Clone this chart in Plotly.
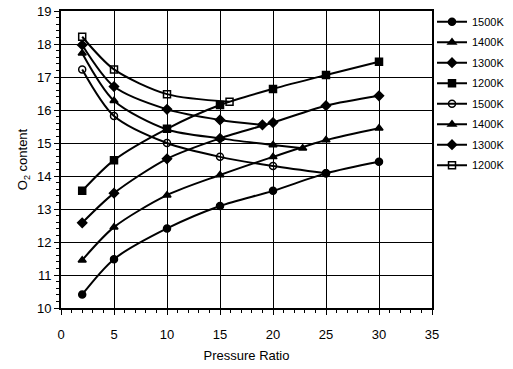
import plotly.graph_objects as go

# Rising series (filled markers), pressure ratio
pr_rise = [2, 5, 10, 15, 20, 25, 30]
rise_1500 = [10.41, 11.48, 12.41, 13.09, 13.55, 14.08, 14.43]
rise_1400 = [11.45, 12.45, 13.42, 14.03, 14.58, 15.09, 15.45]
rise_1300 = [12.58, 13.48, 14.52, 15.14, 15.62, 16.13, 16.43]
rise_1200 = [13.55, 14.48, 15.43, 16.15, 16.64, 17.06, 17.46]

# Falling series
pr_fall_1500 = [2, 5, 10, 15, 20, 25]
fall_1500 = [17.23, 15.82, 15.0, 14.58, 14.3, 14.08]
pr_fall_1400 = [2, 5, 10, 15, 20, 22.8]
fall_1400 = [17.72, 16.28, 15.41, 15.14, 14.94, 14.84]
pr_fall_1300 = [2, 5, 10, 15, 19]
fall_1300 = [17.97, 16.71, 16.02, 15.70, 15.55]
pr_fall_1200 = [2, 5, 10, 15.9]
fall_1200 = [18.22, 17.23, 16.48, 16.25]

x_ticks = [0, 5, 10, 15, 20, 25, 30, 35]
y_ticks = [10, 11, 12, 13, 14, 15, 16, 17, 18, 19]

series = [
    (pr_rise, rise_1500, "1500K", "circle"),
    (pr_rise, rise_1400, "1400K", "triangle-up"),
    (pr_rise, rise_1300, "1300K", "diamond"),
    (pr_rise, rise_1200, "1200K", "square"),
    (pr_fall_1500, fall_1500, "1500K", "circle-open"),
    (pr_fall_1400, fall_1400, "1400K", "triangle-up"),
    (pr_fall_1300, fall_1300, "1300K", "diamond"),
    (pr_fall_1200, fall_1200, "1200K", "square-open"),
]

FONT = "Liberation Sans, Arial, sans-serif"

fig = go.Figure()
for i, (xs, ys, name, sym) in enumerate(series):
    fig.add_trace(go.Scatter(
        x=xs, y=ys, name=name, mode="lines+markers", legendgroup=f"g{i}",
        line=dict(color="black", width=2, shape="spline", smoothing=0.8),
        marker=dict(symbol=sym, size=7, color="black",
                    line=dict(color="black", width=1.5)),
    ))

axis_common = dict(
    showline=True, linecolor="black", linewidth=2, mirror=True,
    showgrid=True, gridcolor="black", gridwidth=1,
    ticks="outside", ticklen=5, tickcolor="black", tickwidth=1,
    zeroline=False,
    tickfont=dict(family=FONT, size=13, color="black"),
)

fig.update_xaxes(
    range=[0, 35], tickvals=x_ticks, ticktext=[str(v) for v in x_ticks],
    minor=dict(dtick=1, ticks="outside", ticklen=3, tickcolor="black", showgrid=False),
    ticklabelstandoff=8,
    title=dict(text="Pressure Ratio", font=dict(family=FONT, size=13, color="black"), standoff=10),
    **axis_common,
)
fig.update_yaxes(
    range=[10, 19], tickvals=y_ticks, ticktext=[str(v) for v in y_ticks],
    minor=dict(dtick=0.2, ticks="outside", ticklen=3, tickcolor="black", showgrid=False),
    title=dict(text="O<sub>2</sub> content", font=dict(family=FONT, size=13, color="black"), standoff=6),
    **axis_common,
)

fig.update_layout(
    width=513, height=369,
    margin=dict(l=61, r=81, t=11, b=61, autoexpand=False),
    plot_bgcolor="white", paper_bgcolor="white",
    showlegend=True,
    legend=dict(
        x=1.0, y=1.013, xanchor="left", yanchor="top",
        font=dict(family=FONT, size=11, color="black"),
        bgcolor="rgba(0,0,0,0)", tracegroupgap=1.5, itemwidth=30,
    ),
)

fig.write_html("out.html", config={"displayModeBar": False},
               post_script="document.body.style.margin='0';")
